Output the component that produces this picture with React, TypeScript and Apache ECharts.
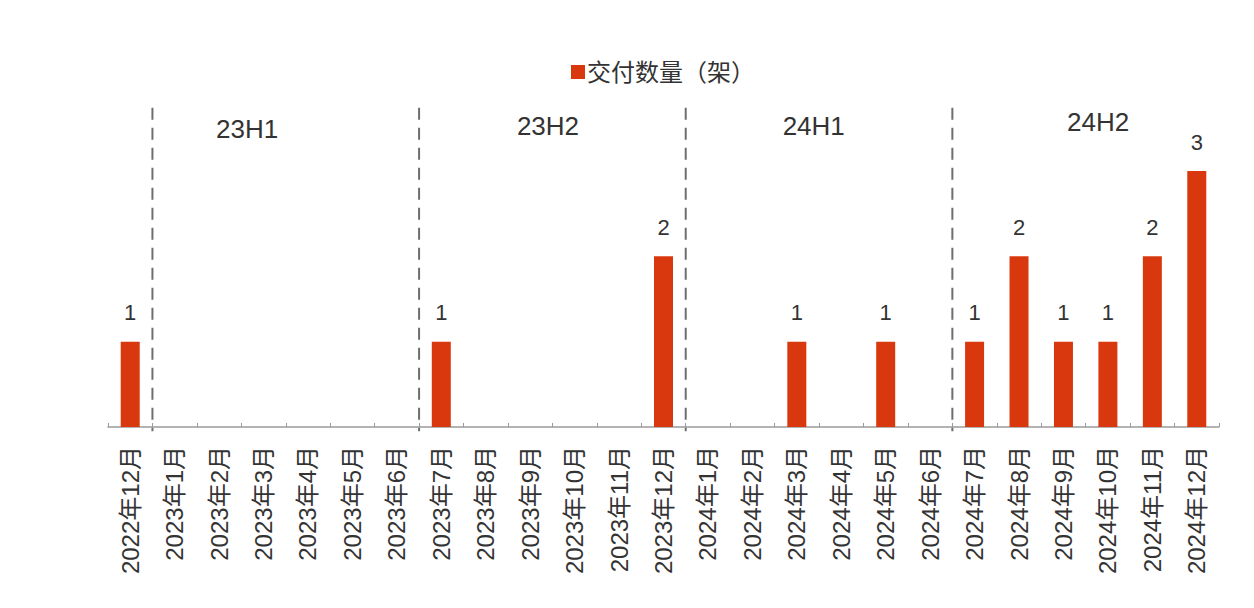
import React, { useEffect, useRef } from "react";
import * as echarts from "echarts";

const categories = [
  "2022年12月", "2023年1月", "2023年2月", "2023年3月", "2023年4月", "2023年5月", "2023年6月",
  "2023年7月", "2023年8月", "2023年9月", "2023年10月", "2023年11月", "2023年12月",
  "2024年1月", "2024年2月", "2024年3月", "2024年4月", "2024年5月", "2024年6月",
  "2024年7月", "2024年8月", "2024年9月", "2024年10月", "2024年11月", "2024年12月",
];
const deliveries = [1, 0, 0, 0, 0, 0, 0, 1, 0, 0, 0, 0, 2, 0, 0, 1, 0, 1, 0, 1, 2, 1, 1, 2, 3];
const seriesName = "交付数量（架）";
// half-year separators (between category indices)
const dividers = [0.5, 6.5, 12.5, 18.5];
const periodLabels = ["23H1", "23H2", "24H1", "24H2"];
const periodX = [2.63, 9.4, 15.38, 21.78];
const periodY = [3.49, 3.53, 3.53, 3.57];
const dividerTop = 3.74;
const dividerBottom = -0.05;

const FONT = "'Liberation Sans', Arial, 'Noto Sans CJK SC', sans-serif";
const TEXT = "#333333";
const RED = "#d9380f";

export default function App() {
  const ref = useRef<HTMLDivElement>(null);
  useEffect(() => {
    if (!ref.current) return;
    const chart = echarts.init(ref.current, undefined, { renderer: "svg" });
    chart.setOption({
      animation: false,
      textStyle: { fontFamily: FONT },
      legend: {
        data: [seriesName],
        left: 566,
        top: 55,
        itemWidth: 14,
        itemHeight: 14,
        itemGap: 4,
        icon: "rect",
        textStyle: { fontSize: 24, color: TEXT, fontFamily: FONT, padding: [0, 0, 0, -3] },
      },
      grid: { left: 108, right: 35, top: 171, bottom: 181 },
      xAxis: [
        {
          type: "category",
          data: categories,
          axisLine: { lineStyle: { color: "#9a9a9a", width: 1.5 } },
          axisTick: { show: true, inside: true, length: 4, lineStyle: { color: "#9a9a9a" } },
          axisLabel: {
            rotate: 90,
            interval: 0,
            fontSize: 24,
            color: TEXT,
            fontFamily: FONT,
            margin: 19,
          },
        },
        { type: "value", min: -0.5, max: 24.5, show: false },
      ],
      yAxis: {
        type: "value",
        min: 0,
        max: 3,
        show: false,
        splitLine: { show: false },
      },
      series: [
        {
          name: seriesName,
          type: "bar",
          data: deliveries.map((v) => (v === 0 ? null : v)),
          barWidth: 19,
          itemStyle: { color: RED },
          label: {
            show: true,
            position: "top",
            distance: 18,
            fontSize: 22,
            color: TEXT,
            fontFamily: FONT,
          },
        },
        {
          type: "custom",
          xAxisIndex: 1,
          silent: true,
          data: dividers.map((d) => [d]),
          renderItem: (params: any, api: any) => {
            const x = api.value(0);
            const top = api.coord([x, dividerTop]);
            const bot = api.coord([x, dividerBottom]);
            return {
              type: "line",
              shape: { x1: top[0], y1: top[1], x2: bot[0], y2: bot[1] },
              style: { stroke: "#6e6e6e", lineWidth: 2, lineDash: [12, 8] },
            };
          },
        },
        {
          type: "custom",
          xAxisIndex: 1,
          silent: true,
          data: periodLabels.map((l, i) => [periodX[i], periodY[i], l]),
          renderItem: (params: any, api: any) => {
            const p = api.coord([api.value(0), api.value(1)]);
            return {
              type: "text",
              x: p[0],
              y: p[1],
              style: {
                text: periodLabels[params.dataIndex],
                fontSize: 26,
                fill: TEXT,
                fontFamily: FONT,
                align: "center",
                verticalAlign: "middle",
              },
            };
          },
        },
      ],
    });
    return () => chart.dispose();
  }, []);
  return (
    <div
      ref={ref}
      style={{ position: "fixed", left: 0, top: 0, width: 1254, height: 608, background: "#fff" }}
    />
  );
}
